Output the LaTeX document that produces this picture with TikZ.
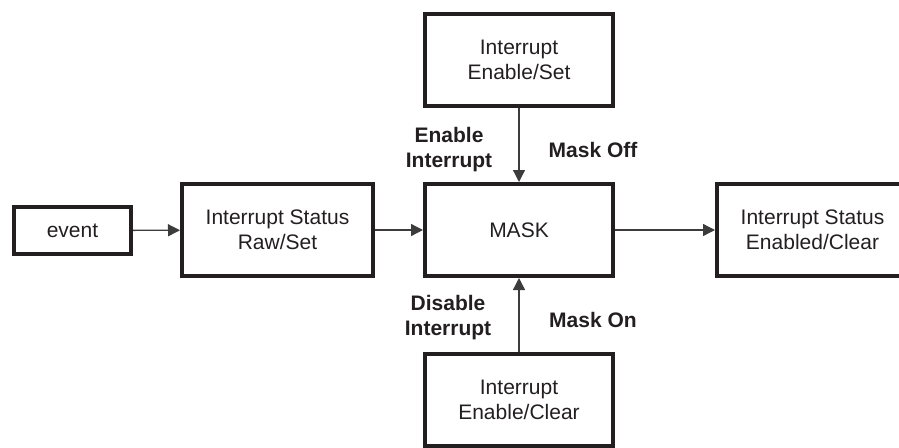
\documentclass[tikz,border=0pt]{standalone}
\usepackage{fontspec}
\setmainfont{Liberation Sans}
\usetikzlibrary{arrows.meta}
\definecolor{boxInk}{RGB}{35, 31, 32}
\definecolor{arrowInk}{RGB}{60, 60, 60}

\begin{document}
\begin{tikzpicture}[x=1pt, y=-1pt,
    blockbox/.style={draw=boxInk, line width=4pt, rectangle, align=center,
      text=boxInk, font=\fontsize{21}{25}\selectfont},
    flowarrow/.style={draw=arrowInk, line width=1.3pt,
      -{Triangle[length=12pt, width=12pt]}},
    masklabel/.style={align=center, text=boxInk,
      font=\fontsize{21}{25}\selectfont\bfseries}]
      \useasboundingbox (0,0) rectangle (899,447);
      \clip (0,0) rectangle (899,447);

      % left to right: event -> raw status -> mask -> enabled status
      \node[blockbox, minimum width=117pt, minimum height=47pt] (event) at (72.5,230.5) {event};
      \node[blockbox, minimum width=191pt, minimum height=92pt] (rawSet) at (277.5,230) {Interrupt Status\\Raw/Set};
      \node[blockbox, minimum width=188pt, minimum height=92pt] (mask) at (519,230) {MASK};
      \node[blockbox, minimum width=191pt, minimum height=92pt] (enClear) at (812.5,230) {Interrupt Status\\Enabled/Clear};

      % enable register above, disable register below the mask
      \node[blockbox, minimum width=188pt, minimum height=92pt] (ieSet) at (519,60) {Interrupt\\Enable/Set};
      \node[blockbox, minimum width=188pt, minimum height=92pt] (ieClear) at (519,400) {Interrupt\\Enable/Clear};

      \draw[flowarrow] (event) -- (rawSet);
      \draw[flowarrow] (rawSet) -- (mask);
      \draw[flowarrow] (mask) -- (enClear);
      \draw[flowarrow] (ieSet) -- (mask);
      \draw[flowarrow] (ieClear) -- (mask);

      \node[masklabel] (enLbl) at (449,150) {Enable\\Interrupt};
      \node[masklabel] (offLbl) at (593,150) {Mask Off};
      \node[masklabel] (disLbl) at (448,318) {Disable\\Interrupt};
      \node[masklabel] (onLbl) at (593,320) {Mask On};
    \end{tikzpicture}
\end{document}
